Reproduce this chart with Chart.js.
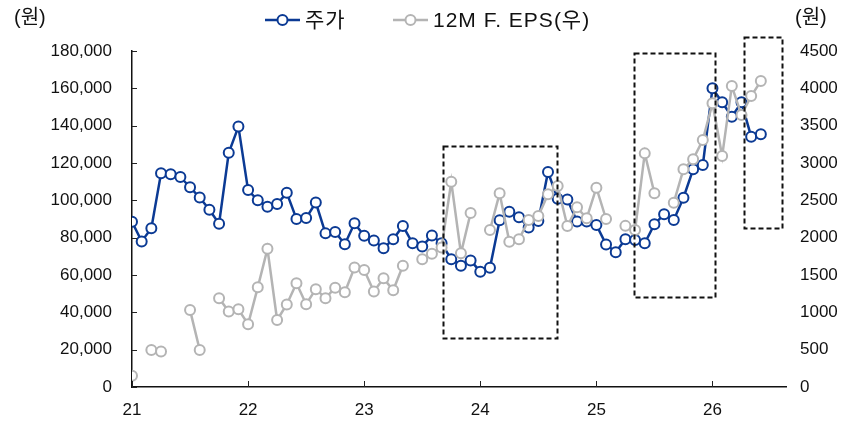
<!DOCTYPE html>
<html>
<head>
<meta charset="utf-8">
<script src="https://cdn.jsdelivr.net/npm/chart.js@4/dist/chart.umd.min.js"></script>
<style>
  html, body { margin: 0; padding: 0; background: #fff; }
  #wrap { width: 864px; height: 423px; }
</style>
</head>
<body>
<div id="wrap"><canvas id="c" width="864" height="423"></canvas></div>
<script>
const FONT = "'Liberation Sans', 'Noto Sans CJK KR', sans-serif";
const BLUE = '#0b3a94';
const GREY = '#b4b4b4';

// Monthly observations, Jan 2021 onward (month index 0 = Jan 2021)
const monthIndex = [
   0,  1,  2,  3,  4,  5,  6,  7,  8,  9, 10, 11,
  12, 13, 14, 15, 16, 17, 18, 19, 20, 21, 22, 23,
  24, 25, 26, 27, 28, 29, 30, 31, 32, 33, 34, 35,
  36, 37, 38, 39, 40, 41, 42, 43, 44, 45, 46, 47,
  48, 49, 50, 51, 52, 53, 54, 55, 56, 57, 58, 59,
  60, 61, 62, 63, 64, 65
];

// 주가 (원, left axis)
const price = [
   88500,  78000,  85000, 114500, 114000, 112500, 107000, 101500,  95000,  87500, 125500, 139500,
  105500, 100000,  96500,  98000, 104000,  90000,  90500,  98800,  82300,  83000,  76500,  87700,
   81000,  78500,  74300,  79200,  86300,  77000,  75300,  81200,  77000,  68400,  65000,  67800,
   61800,  63900,  89300,  93900,  91000,  85500,  88900, 115200, 100800, 100500,  88600,  88600,
   86800,  76400,  72200,  79200,  78700,  77000,  87200,  92500,  89500, 101400, 116600, 118900,
  160000, 152500, 144800, 152500, 134100, 135400
];

// 12M F. EPS (원, right axis); null = no estimate that month
const eps = [
   150, null,  495,  475, null, null, 1030,  495, null, 1190, 1010, 1040,
   840, 1335, 1850,  897, 1105, 1389, 1108, 1310, 1190, 1330, 1268, 1600,
  1567, 1280, 1455, 1295, 1624, null, 1712, 1785, 1867, 2749, 1790, 2330,
  null, 2102, 2594, 1946, 1978, 2236, 2290, 2582, 2693, 2156, 2406, 2259,
  2669, 2250, null, 2158, 2102, 3129, 2594, null, 2468, 2915, 3049, 3307,
  3799, 3093, 4030, 3642, 3897, 4097
];

const yearTickIndex = [0, 12, 24, 36, 48, 60];
const yearLabels = ['21', '22', '23', '24', '25', '26'];
const leftTicks = [0, 20000, 40000, 60000, 80000, 100000, 120000, 140000, 160000, 180000];
const rightTicks = [0, 500, 1000, 1500, 2000, 2500, 3000, 3500, 4000, 4500];

// Highlight boxes in (month index, left-axis value) units
const highlightBoxes = [
  { x0: 32.1, x1: 43.9, yTop: 129000, yBottom: 26300 },
  { x0: 51.9, x1: 60.3, yTop: 178900, yBottom: 48300 },
  { x0: 63.3, x1: 67.2, yTop: 187500, yBottom: 85200 }
];

const seriesNames = ['주가', '12M F. EPS(우)'];

const pricePoints = monthIndex.map((m, i) => ({ x: m, y: price[i] }));
const epsPoints = monthIndex.map((m, i) => ({ x: m, y: eps[i] }));

const overlay = {
  id: 'overlay',
  afterDatasetsDraw(chart) {
    const ctx = chart.ctx;
    const xs = chart.scales.x, ys = chart.scales.y;
    ctx.save();
    ctx.strokeStyle = '#111';
    ctx.lineWidth = 2;
    ctx.setLineDash([5, 3]);
    highlightBoxes.forEach(b => {
      const l = Math.round(xs.getPixelForValue(b.x0)) + 0.5;
      const r = Math.round(xs.getPixelForValue(b.x1)) + 0.5;
      const t = Math.round(ys.getPixelForValue(b.yTop)) + 0.5;
      const btm = Math.round(ys.getPixelForValue(b.yBottom)) + 0.5;
      ctx.strokeRect(l, t, r - l, btm - t);
    });
    ctx.restore();
  },
  afterDraw(chart) {
    const ctx = chart.ctx;
    const xs = chart.scales.x, ys = chart.scales.y;
    const area = chart.chartArea;
    ctx.save();
    // inward tick marks
    ctx.strokeStyle = '#222';
    ctx.lineWidth = 1;
    ctx.setLineDash([]);
    leftTicks.forEach(v => {
      const y = Math.round(ys.getPixelForValue(v)) + 0.5;
      ctx.beginPath(); ctx.moveTo(area.left, y); ctx.lineTo(area.left + 5, y); ctx.stroke();
    });
    yearTickIndex.forEach(v => {
      const x = Math.round(xs.getPixelForValue(v)) + 0.5;
      ctx.beginPath(); ctx.moveTo(x, area.bottom); ctx.lineTo(x, area.bottom - 6); ctx.stroke();
    });

    // unit labels
    ctx.fillStyle = '#111';
    ctx.font = '20px ' + FONT;
    ctx.textBaseline = 'middle';
    ctx.textAlign = 'left';
    ctx.fillText('(원)', 14, 18);
    ctx.fillText('(원)', 795, 18);

    // legend
    const ly = 20;
    ctx.font = '21px ' + FONT;
    if ('letterSpacing' in ctx) ctx.letterSpacing = '1px';
    const items = [
      { name: seriesNames[0], color: BLUE, x: 265 },
      { name: seriesNames[1], color: GREY, x: 393 }
    ];
    items.forEach(it => {
      ctx.strokeStyle = it.color;
      ctx.lineWidth = 2.5;
      ctx.beginPath(); ctx.moveTo(it.x, ly); ctx.lineTo(it.x + 35, ly); ctx.stroke();
      ctx.beginPath(); ctx.arc(it.x + 17.5, ly, 5, 0, Math.PI * 2);
      ctx.fillStyle = '#fff'; ctx.fill();
      ctx.lineWidth = 2; ctx.stroke();
      ctx.fillStyle = '#111';
      ctx.fillText(it.name, it.x + 40, ly + 1);
    });
    ctx.restore();
  }
};

const tickFont = { family: FONT, size: 17 };

new Chart(document.getElementById('c'), {
  type: 'line',
  data: {
    datasets: [
      {
        label: seriesNames[0],
        data: pricePoints,
        yAxisID: 'y',
        borderColor: BLUE,
        borderWidth: 2.5,
        pointRadius: 5,
        pointBorderWidth: 2,
        pointBackgroundColor: '#fff',
        pointBorderColor: BLUE,
        tension: 0,
        order: 2
      },
      {
        label: seriesNames[1],
        data: epsPoints,
        yAxisID: 'y1',
        borderColor: GREY,
        borderWidth: 2.5,
        pointRadius: 5,
        pointBorderWidth: 2,
        pointBackgroundColor: '#fff',
        pointBorderColor: GREY,
        tension: 0,
        spanGaps: false,
        order: 1
      }
    ]
  },
  options: {
    responsive: false,
    animation: false,
    events: [],
    layout: { padding: { top: 51, left: 0, right: 0, bottom: 0 } },
    plugins: { legend: { display: false }, tooltip: { enabled: false } },
    scales: {
      x: {
        type: 'linear',
        min: 0,
        max: 67.6,
        afterBuildTicks: s => { s.ticks = yearTickIndex.map(v => ({ value: v })); },
        afterFit: s => { s.height = 36; },
        ticks: {
          autoSkip: false,
          maxRotation: 0,
          padding: 13,
          color: '#111',
          font: tickFont,
          callback: v => yearLabels[yearTickIndex.indexOf(v)]
        },
        grid: { display: false, drawTicks: false },
        border: { display: true, color: '#111', width: 1.5 }
      },
      y: {
        position: 'left',
        min: 0,
        max: 180000,
        afterBuildTicks: s => { s.ticks = leftTicks.map(v => ({ value: v })); },
        afterFit: s => { s.width = 132; },
        ticks: {
          padding: 20,
          color: '#111',
          font: tickFont,
          callback: v => v.toLocaleString('en-US')
        },
        grid: { display: false, drawTicks: false },
        border: { display: true, color: '#111', width: 1.5 }
      },
      y1: {
        position: 'right',
        min: 0,
        max: 4500,
        afterBuildTicks: s => { s.ticks = rightTicks.map(v => ({ value: v })); },
        afterFit: s => { s.width = 78; },
        ticks: {
          padding: 14,
          color: '#111',
          font: tickFont,
          callback: v => String(v)
        },
        grid: { display: false, drawTicks: false },
        border: { display: false }
      }
    }
  },
  plugins: [overlay]
});
</script>
</body>
</html>
